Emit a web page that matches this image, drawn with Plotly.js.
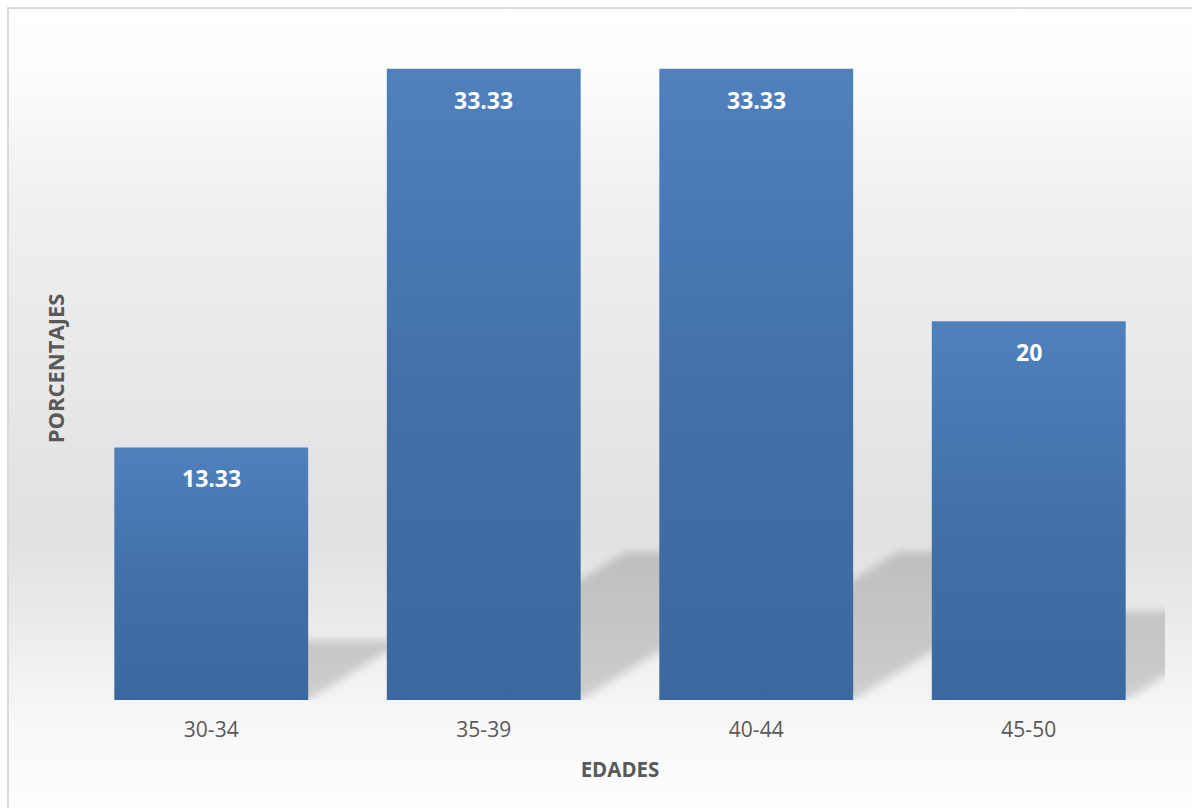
<!DOCTYPE html>
<html>
<head>
<meta charset="utf-8">
<script src="https://cdn.plot.ly/plotly-3.0.1.min.js"></script>
<style>
  html, body { margin: 0; padding: 0; background: #ffffff; overflow: hidden; }
  #frame {
    position: absolute; left: 7px; top: 7px;
    width: 1200px; height: 820px;
    border: 2px solid #d9d9d9;
    background: linear-gradient(to bottom,
      #ffffff 0%, #fdfdfd 7%, #f0f0f0 23%, #e1e1e1 64%,
      #eeeeee 78%, #f7f7f7 86%, #ffffff 100%);
  }
  #chart { width: 1200px; height: 820px; }
</style>
</head>
<body>
<div id="frame"><div id="chart"></div></div>
<script>
// Age groups and the share of respondents in each (%)
const categories = ['30-34', '35-39', '40-44', '45-50'];
const percentages = [13.33, 33.33, 33.33, 20];
const xTitle = 'EDADES';
const yTitle = 'PORCENTAJES';

// Cast-shadow look: flattened, sheared copy of each bar lying behind it
const BAR_GAP = 0.2885;
const HALF_W = (1 - BAR_GAP) / 2;
const SHADOW_SCALE = 0.235;    // shadow height relative to bar height
const SHADOW_SHEAR = 0.0263;   // horizontal shift (category units) per value unit

const shadowShapes = percentages.map((v, i) => {
  const h = v * SHADOW_SCALE;
  const dx = v * SHADOW_SHEAR;
  const x0 = i - HALF_W, x1 = i + HALF_W;
  return {
    type: 'path', xref: 'x', yref: 'y', layer: 'below',
    path: `M ${x0},0 L ${x1},0 L ${x1 + dx},${h} L ${x0 + dx},${h} Z`,
    fillcolor: 'rgba(0,0,0,0.16)',
    line: { width: 0 }
  };
});

const valueLabels = percentages.map((v, i) => ({
  x: categories[i], y: v, xref: 'x', yref: 'y',
  text: String(v), showarrow: false,
  yanchor: 'middle', yshift: -31,
  font: { family: 'Open Sans, sans-serif', size: 23, color: '#ffffff', weight: 700 }
}));

const trace = {
  type: 'bar',
  x: categories,
  y: percentages,
  marker: { color: '#4677b3', line: { width: 0 } },
  hoverinfo: 'none'
};

const layout = {
  width: 1200, height: 820,
  margin: { l: 65.7, r: 43.7, t: 28.4, b: 129, pad: 0 },
  paper_bgcolor: 'rgba(0,0,0,0)',
  plot_bgcolor: 'rgba(0,0,0,0)',
  bargap: BAR_GAP,
  showlegend: false,
  font: { family: 'Open Sans, sans-serif', color: '#595959' },
  xaxis: {
    type: 'category',
    range: [-0.5, categories.length - 0.5],
    autorange: false,
    showgrid: false, zeroline: false, showline: false, ticks: '',
    tickfont: { size: 21, color: '#595959' },
    ticklabelstandoff: 15,
    title: { text: xTitle, standoff: 20,
             font: { size: 20.5, color: '#595959', weight: 700 } }
  },
  yaxis: {
    range: [0, 35],
    autorange: false,
    showgrid: false, zeroline: false, showline: false,
    showticklabels: false, ticks: '',
    title: { text: yTitle, standoff: 3,
             font: { size: 22, color: '#595959', weight: 700 } }
  },
  shapes: shadowShapes,
  annotations: valueLabels
};

Plotly.newPlot('chart', [trace], layout, { staticPlot: true, displayModeBar: false })
  .then(gd => {
    const svg = gd.querySelector('svg.main-svg');
    const ns = 'http://www.w3.org/2000/svg';
    let defs = svg.querySelector('defs');
    if (!defs) { defs = document.createElementNS(ns, 'defs'); svg.prepend(defs); }

    // vertical light-to-dark fill for each bar
    const grad = document.createElementNS(ns, 'linearGradient');
    grad.setAttribute('id', 'barShade');
    grad.setAttribute('x1', '0'); grad.setAttribute('y1', '0');
    grad.setAttribute('x2', '0'); grad.setAttribute('y2', '1');
    [['0%', '#4f81bd'], ['55%', '#416fa8'], ['100%', '#3c68a0']].forEach(([o, c]) => {
      const s = document.createElementNS(ns, 'stop');
      s.setAttribute('offset', o); s.setAttribute('stop-color', c);
      grad.appendChild(s);
    });
    defs.appendChild(grad);

    // soft edge for the cast shadows
    const filt = document.createElementNS(ns, 'filter');
    filt.setAttribute('id', 'softShadow');
    filt.setAttribute('x', '-20%'); filt.setAttribute('y', '-50%');
    filt.setAttribute('width', '140%'); filt.setAttribute('height', '200%');
    const blur = document.createElementNS(ns, 'feGaussianBlur');
    blur.setAttribute('stdDeviation', '4');
    filt.appendChild(blur);
    defs.appendChild(filt);

    gd.querySelectorAll('.barlayer .point path').forEach(p => {
      p.style.fill = 'url(#barShade)';
    });
    gd.querySelectorAll('.shapelayer path').forEach(p => {
      p.style.filter = 'url(#softShadow)';
    });
  });
</script>
</body>
</html>
